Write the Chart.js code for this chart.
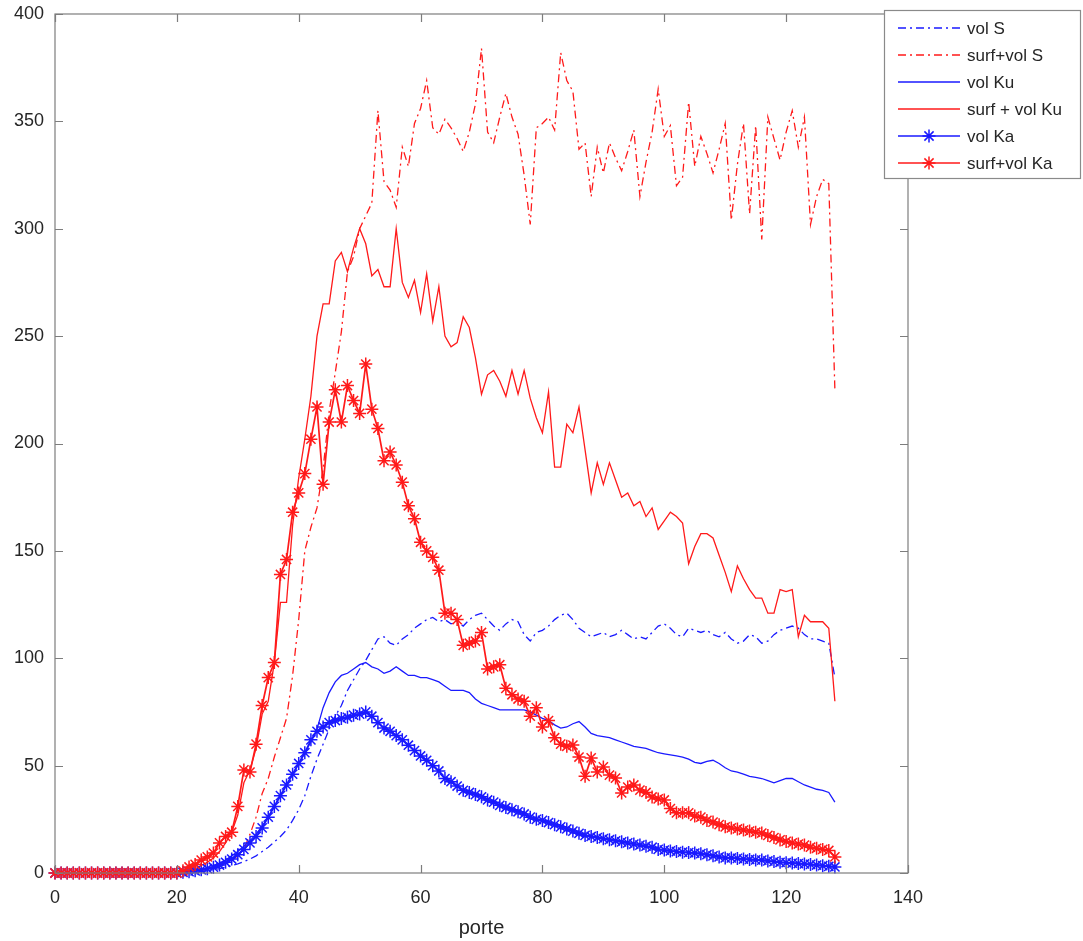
<!DOCTYPE html>
<html>
<head>
<meta charset="utf-8">
<script src="https://cdn.jsdelivr.net/npm/chart.js@4"></script>
<style>
  html, body { margin: 0; padding: 0; background: #fff; }
  #wrap { width: 1083px; height: 941px; }
</style>
</head>
<body>
<div id="wrap"><canvas id="chart" width="1083" height="941"></canvas></div>
<script>
// porte = gate index 0..128
const porte = Array.from({ length: 129 }, (_, i) => i);

const xTicks = [0, 20, 40, 60, 80, 100, 120, 140];
const yTicks = [0, 50, 100, 150, 200, 250, 300, 350, 400];

const seriesNames = ['vol S', 'surf+vol S', 'vol Ku', 'surf + vol Ku', 'vol Ka', 'surf+vol Ka'];

const volS = [
    0, 0, 0, 0, 0, 0, 0, 0, 0, 0,
    0, 0, 0, 0, 0, 0, 0, 0, 0, 0,
    0, 0, 0.2, 0.4, 0.6, 1, 1.5, 2, 2.8, 3.5,
    4.3, 5.3, 6.5, 8, 10, 12, 14.5, 17, 20, 24.5,
    29.5, 36, 45, 53, 60, 67, 73, 78, 85, 90,
    95, 99, 104, 109, 110, 107, 106, 109, 111, 114,
    116, 118, 119, 117, 118, 116, 117, 115, 118, 120,
    121, 118, 115, 113, 116, 118, 117, 111, 108, 112,
    113, 115, 118, 120, 121, 118, 114, 112, 110, 111,
    112, 110, 111, 113, 111, 109, 110, 109, 112, 115,
    116, 114, 111, 110, 114, 113, 112, 113, 111, 110,
    112, 109, 107, 108, 111, 110, 107, 108, 111, 113,
    114, 115, 114, 111, 109, 109, 108, 107, 91
];

const surfVolS = [
    0, 0, 0, 0, 0, 0, 0, 0, 0, 0,
    0, 0, 0, 0, 0, 0, 0, 0, 0, 0,
    0, 0, 0.5, 0.8, 1.2, 1.8, 2.5, 3.5, 4.5, 6,
    8, 11, 18, 26, 37, 44, 54, 63, 72, 92,
    118, 150, 161, 170, 188, 215, 233, 252, 280, 287,
    300, 306, 312, 355, 322, 318, 310, 338, 329, 349,
    356, 369, 347, 344, 351, 347, 342, 336, 345, 358,
    384, 345, 340, 352, 363, 352, 344, 325, 302, 347,
    349, 352, 346, 382, 369, 364, 337, 340, 315, 338,
    326, 340, 333, 327, 336, 346, 315, 331, 345, 365,
    343, 348, 320, 324, 359, 329, 343, 335, 326, 337,
    349, 304, 330, 349, 307, 348, 295, 352, 342, 332,
    345, 355, 338, 352, 302, 315, 323, 321, 225
];

const volKu = [
    0, 0, 0, 0, 0, 0, 0, 0, 0, 0,
    0, 0, 0, 0, 0, 0, 0, 0, 0, 0,
    0, 0, 0.3, 0.7, 1.2, 2, 3, 4.5, 6, 8,
    10, 12.5, 15, 18, 22, 26, 31, 36, 41, 46,
    51, 56, 61, 67, 77, 84, 89, 92, 93, 95,
    97, 98, 96, 95, 93, 94, 96, 94, 92, 92,
    91, 91, 90, 89, 87, 85, 85, 85, 84, 81,
    79, 78, 77, 76, 76, 76, 76, 76, 75, 73.5,
    72, 71, 69, 67.5, 68, 69.5, 70.5, 68, 65, 64,
    63.5, 63, 62, 61, 60, 59, 58.5, 58, 57, 56,
    55.5, 55, 54.5, 54, 53, 51.5, 51, 52, 52.5, 51,
    49, 47.5, 47, 46, 45, 44.5, 44, 43, 42, 43,
    44, 44, 42.5, 41, 40, 39, 38.5, 37.5, 33
];

const surfVolKu = [
    0, 0, 0, 0, 0, 0, 0, 0, 0, 0,
    0, 0, 0, 0, 0, 0, 0, 0, 0, 0,
    0, 0.5, 1, 2, 3.5, 5, 7, 10, 14, 19,
    27, 42, 48, 58, 74, 80, 98, 126, 126, 162,
    184, 202, 222, 250, 265, 265, 285, 289, 280, 291,
    300, 293, 278, 281, 273, 273, 300, 275, 268, 276,
    261, 279, 257, 273, 250, 245, 247, 259, 254, 240,
    223, 232, 234, 229, 222, 234, 223, 234, 221, 212,
    205, 224, 189, 189, 209, 205, 217, 197, 177, 191,
    181, 191, 183, 175, 177, 171, 173, 166, 170, 160,
    164, 168, 166, 163, 144, 152, 158, 158, 156, 148,
    140, 131, 143, 137, 132, 128, 128, 121, 121, 132,
    131, 132, 110, 120, 117, 117, 117, 114, 80
];

const volKa = [
    0, 0, 0, 0, 0, 0, 0, 0, 0, 0,
    0, 0, 0, 0, 0, 0, 0, 0, 0, 0,
    0, 0.3, 0.6, 1, 1.5, 2, 2.7, 3.7, 5, 6.5,
    8.5, 11, 14, 17, 21, 26, 31, 36, 41, 46,
    51, 56, 62, 66, 68, 70, 71, 72, 72.5, 73.5,
    74, 75, 73, 70, 67.5, 66, 64, 62, 59.5, 57,
    54.5, 52.5, 50, 47.5, 44, 42.5, 40.5, 38.5, 37.5, 36.5,
    35.5, 34, 33, 31.5, 30.5, 29.5, 28.5, 27.5, 26, 25,
    24.5, 23.5, 22.5, 21.5, 20.5, 19.5, 18.5, 17.5, 17, 16.5,
    16, 15.5, 15, 14.5, 14, 13.5, 13, 12.5, 12, 11,
    10.7, 10.3, 10, 9.7, 9.5, 9.3, 9, 8.5, 8, 7.5,
    7, 7, 6.8, 6.5, 6.3, 6.1, 6, 5.6, 5.3, 5,
    4.8, 4.6, 4.4, 4.2, 4, 3.7, 3.4, 3.1, 2.8
];

const surfVolKa = [
    0, 0, 0, 0, 0, 0, 0, 0, 0, 0,
    0, 0, 0, 0, 0, 0, 0, 0, 0, 0,
    0, 1, 2.8, 4, 6, 7.5, 9.3, 14, 17, 19,
    31, 48, 47, 60, 78, 91, 98, 139, 146, 168,
    177, 186, 202, 217, 181, 210, 225, 210, 227, 220,
    214, 237, 216, 207, 192, 196, 190, 182, 171, 165,
    154, 150, 147, 141, 121, 121, 118, 106, 107, 108,
    112, 95, 96, 97, 86, 83, 81, 80, 73, 77,
    68, 71, 63, 60, 59, 59.6, 54, 45, 53.6, 47,
    49.4, 45.6, 44.2, 37.3, 40, 41, 38.6, 37.5, 35.4, 34.5,
    34, 30, 28, 28, 28, 26.5, 26, 24.5, 23.7, 22.5,
    21.5, 21, 20.5, 20, 19.5, 19, 18.6, 17.5, 16.5, 15.4,
    14.7, 14, 13.5, 13, 12, 11.5, 11, 10.5, 7.5
];

// ================== ESTILOS ==================

const BLUE = '#1a1aff';
const RED = '#ff1a1a';
const DASHDOT = [8, 4, 2, 4];
const AXIS = '#7d7d7d';
const TEXT = '#262626';
const FONT = "'Liberation Sans', Arial, sans-serif";

function lineSet(label, data, color, dash, star) {
    return {
        label: label,
        data: data,
        borderColor: color,
        backgroundColor: color,
        borderWidth: star ? 1.7 : 1.3,
        borderDash: dash,
        pointStyle: star ? 'star' : 'circle',
        pointRadius: star ? 6.5 : 0,
        pointBorderWidth: 1.5,
        pointBorderColor: color,
        pointHoverRadius: star ? 6.5 : 0,
        tension: 0,
        fill: false,
        clip: 12
    };
}

const datasets = [
    lineSet(seriesNames[0], volS, BLUE, DASHDOT, false),
    lineSet(seriesNames[1], surfVolS, RED, DASHDOT, false),
    lineSet(seriesNames[2], volKu, BLUE, [], false),
    lineSet(seriesNames[3], surfVolKu, RED, [], false),
    lineSet(seriesNames[4], volKa, BLUE, [], true),
    lineSet(seriesNames[5], surfVolKa, RED, [], true)
];
// later series on top, like the original plotting order
datasets.forEach((d, i) => { d.order = datasets.length - i; });

function drawStar(ctx, x, y, r) {
    ctx.beginPath();
    for (let k = 0; k < 4; k++) {
        const a = k * Math.PI / 4;
        ctx.moveTo(x - r * Math.cos(a), y - r * Math.sin(a));
        ctx.lineTo(x + r * Math.cos(a), y + r * Math.sin(a));
    }
    ctx.stroke();
}

// caja de ejes con marcas hacia dentro + leyenda encima
const boxPlugin = {
    id: 'boxPlugin',
    afterDraw(chart) {
        const ctx = chart.ctx;
        const a = chart.chartArea;
        const xs = chart.scales.x;
        const ys = chart.scales.y;
        const tl = 8;

        ctx.save();
        ctx.strokeStyle = AXIS;
        ctx.lineWidth = 1.2;
        ctx.setLineDash([]);
        ctx.strokeRect(a.left, a.top, a.right - a.left, a.bottom - a.top);

        ctx.beginPath();
        xTicks.forEach(v => {
            const px = Math.round(xs.getPixelForValue(v)) + 0.5;
            ctx.moveTo(px, a.bottom); ctx.lineTo(px, a.bottom - tl);
            ctx.moveTo(px, a.top); ctx.lineTo(px, a.top + tl);
        });
        yTicks.forEach(v => {
            const py = Math.round(ys.getPixelForValue(v)) + 0.5;
            ctx.moveTo(a.left, py); ctx.lineTo(a.left + tl, py);
            ctx.moveTo(a.right, py); ctx.lineTo(a.right - tl, py);
        });
        ctx.stroke();

        // leyenda
        const lx = 884, ly = 10, lw = 196, lh = 168;
        ctx.fillStyle = '#fff';
        ctx.fillRect(lx, ly, lw, lh);
        ctx.strokeStyle = '#8a8a8a';
        ctx.lineWidth = 1.2;
        ctx.strokeRect(lx + 0.5, ly + 0.5, lw, lh);

        ctx.font = '17px ' + FONT;
        ctx.textBaseline = 'middle';
        ctx.textAlign = 'left';
        chart.data.datasets.forEach((d, i) => {
            const y = ly + 18 + i * 27;
            ctx.strokeStyle = d.borderColor;
            ctx.lineWidth = 1.3;
            ctx.setLineDash(d.borderDash || []);
            ctx.beginPath();
            ctx.moveTo(898, y); ctx.lineTo(960, y);
            ctx.stroke();
            ctx.setLineDash([]);
            if (d.pointRadius > 0) {
                ctx.lineWidth = 1.5;
                drawStar(ctx, 929, y, 6.5);
            }
            ctx.fillStyle = TEXT;
            ctx.fillText(d.label, 967, y + 1);
        });
        ctx.restore();
    }
};

// ================== GRÁFICA ==================

const ctx = document.getElementById('chart').getContext('2d');
new Chart(ctx, {
    type: 'line',
    data: { labels: porte, datasets: datasets },
    options: {
        responsive: false,
        animation: false,
        devicePixelRatio: 1,
        layout: { padding: { top: 14, right: 175, left: 0, bottom: 0 } },
        plugins: {
            legend: { display: false },
            tooltip: { enabled: false }
        },
        scales: {
            x: {
                type: 'linear',
                min: 0,
                max: 140,
                afterBuildTicks: s => { s.ticks = xTicks.map(v => ({ value: v })); },
                afterFit: s => { s.height = 68; s.paddingLeft = 0; s.paddingRight = 0; },
                ticks: { color: TEXT, font: { family: FONT, size: 18 }, padding: 14, maxRotation: 0 },
                grid: { display: false, drawTicks: false },
                border: { display: false },
                title: {
                    display: true,
                    text: 'porte',
                    color: TEXT,
                    font: { family: FONT, size: 20 },
                    padding: { top: 0, bottom: 1 }
                }
            },
            y: {
                type: 'linear',
                min: 0,
                max: 400,
                afterBuildTicks: s => { s.ticks = yTicks.map(v => ({ value: v })); },
                afterFit: s => { s.width = 55; s.paddingTop = 0; s.paddingBottom = 0; },
                ticks: { color: TEXT, font: { family: FONT, size: 18 }, padding: 11 },
                grid: { display: false, drawTicks: false },
                border: { display: false }
            }
        }
    },
    plugins: [boxPlugin]
});
</script>
</body>
</html>
